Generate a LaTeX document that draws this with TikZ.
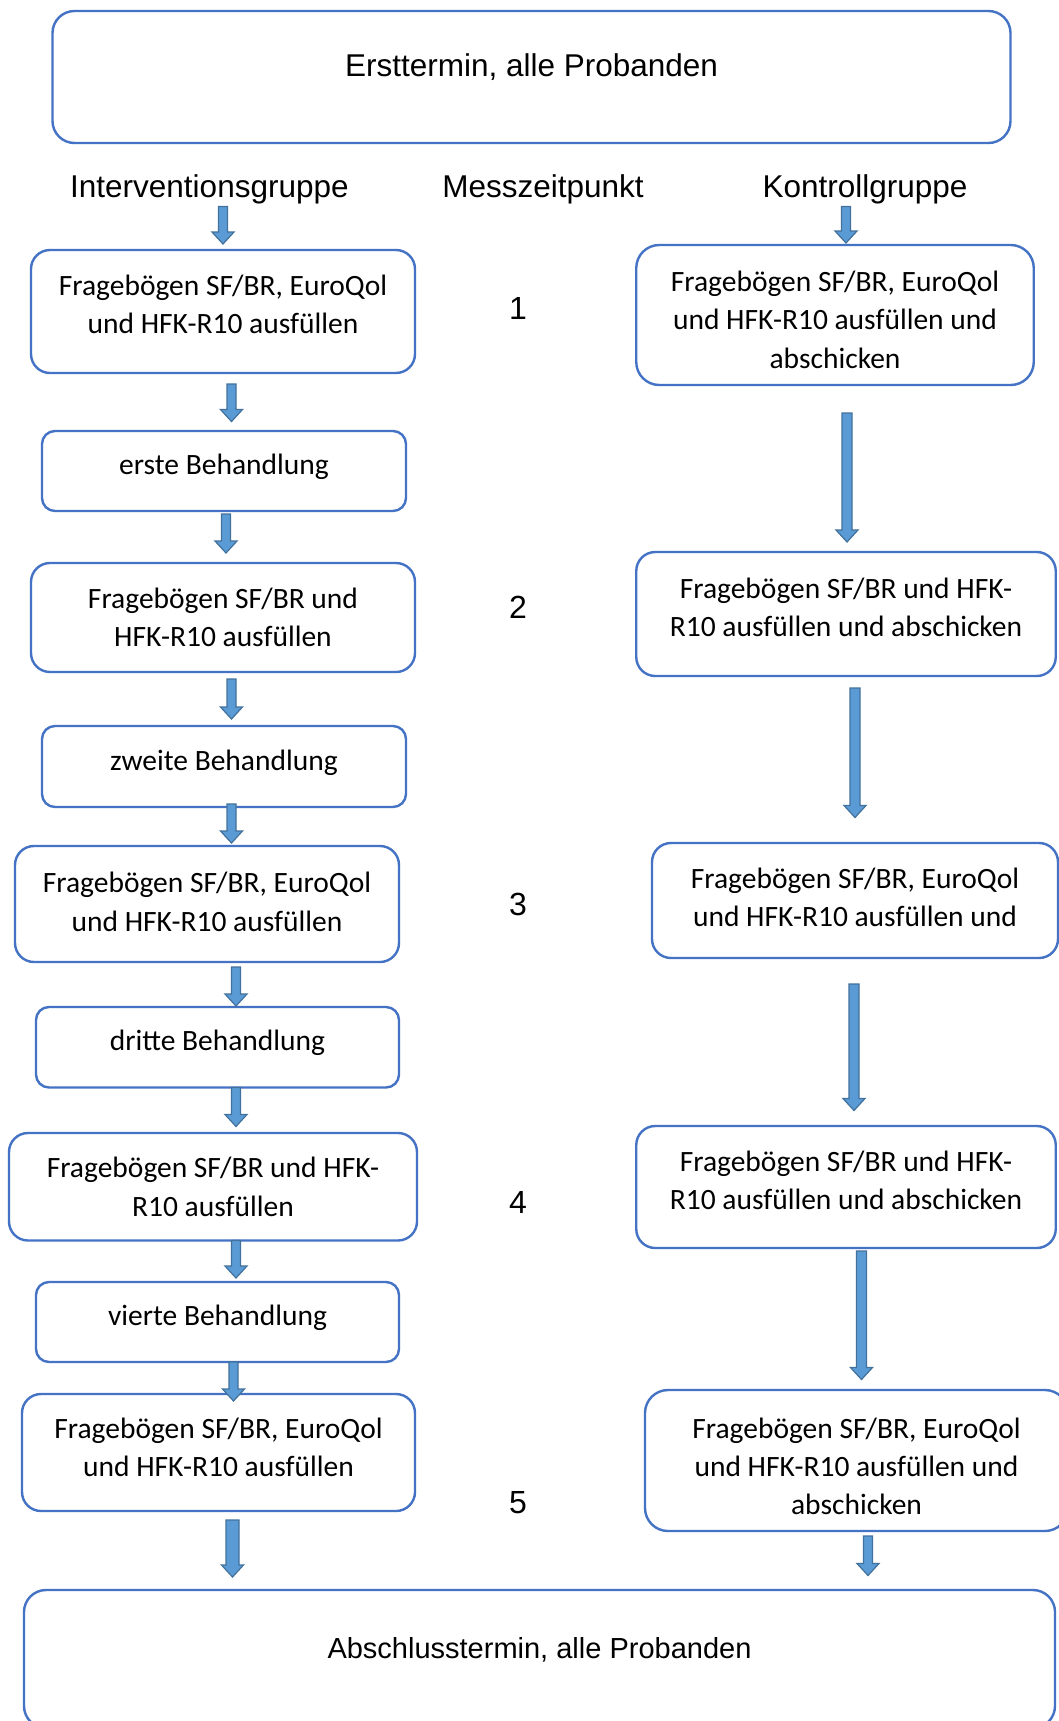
\documentclass[tikz,border=0pt]{standalone}
\usepackage{fontspec}
\setmainfont{Carlito}
\newfontfamily\headfont{Liberation Sans}
\usepackage{tikz}
\usetikzlibrary{positioning, calc}

\definecolor{boxblue}{HTML}{4472C4}
\definecolor{arrowfill}{HTML}{5B9BD5}
\definecolor{arrowline}{HTML}{41719C}

\begin{document}
\begin{tikzpicture}[x=1pt, y=-1pt,
    every node/.style={inner sep=0pt, outer sep=0pt},
    liftby/.style={execute at end node={\rule[-#1]{0pt}{#1}}},
    sinkby/.style={execute at begin node={\rule{0pt}{#1}}},
    qbox/.style={draw=boxblue, line width=2.4pt, rounded corners=19pt, align=center,
      font=\fontsize{29.5}{38.4}\selectfont},
    tbox/.style={qbox, rounded corners=13pt, liftby=13.3pt},
    bigbox/.style={qbox, rounded corners=22pt, font=\headfont\fontsize{31.5}{38}\selectfont,
      text height=22pt, text depth=24pt},
    head/.style={anchor=base, font=\headfont\fontsize{31.5}{38}\selectfont},
    num/.style={anchor=base, font=\headfont\fontsize{32}{38}\selectfont},
    blockarrow/.style={draw=arrowline, fill=arrowfill, line width=1.2pt, line join=miter,
      to path={let \p1=(\tikztostart), \p2=(\tikztotarget) in
        (\x1-#1,\y1) -- (\x1+#1,\y1) -- (\x1+#1,\y2+12pt) -- (\x1+11pt,\y2+12pt)
        -- (\x1,\y2) -- (\x1-11pt,\y2+12pt) -- (\x1-#1,\y2+12pt) -- cycle}},
    blockarrow/.default=4.5pt]

  \fill[white] (0,0) rectangle (1059,1721);
  \useasboundingbox (0,0) rectangle (1059,1721);

  \node[bigbox, minimum width=958pt, minimum height=132pt] (start) at (531.5,77) {Ersttermin, alle Probanden};

  \node[head] (IG) at (209.4,197.9) {Interventionsgruppe};
  \node[head] (MZ) at (543,197.9) {Messzeitpunkt};
  \node[head] (KG) at (865,197.9) {Kontrollgruppe};

  \node[qbox, minimum width=384pt, minimum height=123pt, liftby=14.2pt] (L1) at (223,311.5) {Fragebögen SF/BR, EuroQol\\und HFK-R10 ausfüllen};
  \node[tbox, minimum width=364pt, minimum height=80pt, below=58pt of L1, xshift=1pt] (L2) {erste Behandlung};
  \node[qbox, minimum width=384pt, minimum height=109pt, below=52pt of L2, xshift=-1pt] (L3) {Fragebögen SF/BR und\\HFK-R10 ausfüllen};
  \node[tbox, minimum width=364pt, minimum height=81pt, below=54pt of L3, xshift=1pt] (L4) {zweite Behandlung};
  \node[qbox, minimum width=384pt, minimum height=116pt, liftby=4.4pt, below=39pt of L4, xshift=-17pt] (L5) {Fragebögen SF/BR, EuroQol\\und HFK-R10 ausfüllen};
  \node[tbox, minimum width=363pt, minimum height=80.5pt, below=45pt of L5, xshift=10.5pt] (L6) {dritte Behandlung};
  \node[qbox, minimum width=408pt, minimum height=107.5pt, below=45.5pt of L6, xshift=-4.5pt] (L7) {Fragebögen SF/BR und HFK-\\R10 ausfüllen};
  \node[tbox, minimum width=363pt, minimum height=80pt, below=41.5pt of L7, xshift=4.5pt] (L8) {vierte Behandlung};
  \node[qbox, minimum width=393pt, minimum height=117pt, liftby=11pt, below=32pt of L8, xshift=1pt] (L9) {Fragebögen SF/BR, EuroQol\\und HFK-R10 ausfüllen};

  \node[qbox, minimum width=397.5pt, minimum height=140pt, rounded corners=23pt, sinkby=106.8pt] (R1) at (835,315) {Fragebögen SF/BR, EuroQol\\und HFK-R10 ausfüllen und\\abschicken};
  \node[qbox, minimum width=419.5pt, minimum height=124pt, liftby=13.2pt, below=167pt of R1, xshift=11pt] (R2) {Fragebögen SF/BR und HFK-\\R10 ausfüllen und abschicken};
  \node[qbox, minimum width=406pt, minimum height=115pt, liftby=6.6pt, below=167pt of R2, xshift=9pt] (R3) {Fragebögen SF/BR, EuroQol\\und HFK-R10 ausfüllen und};
  \node[qbox, minimum width=419.5pt, minimum height=122pt, liftby=13.2pt, below=168pt of R3, xshift=-9pt] (R4) {Fragebögen SF/BR und HFK-\\R10 ausfüllen und abschicken};
  \node[qbox, minimum width=423pt, minimum height=141pt, rounded corners=23pt, sinkby=109pt, below=142pt of R4, xshift=10.5pt] (R5) {Fragebögen SF/BR, EuroQol\\und HFK-R10 ausfüllen und\\abschicken};

  \node[num] (M1) at (518,319) {1};
  \node[num] (M2) at (518,618.5) {2};
  \node[num] (M3) at (518,915) {3};
  \node[num] (M4) at (518,1213) {4};
  \node[num] (M5) at (518,1513) {5};

  \node[bigbox, minimum width=1031pt, minimum height=138pt, font=\headfont\fontsize{29}{36}\selectfont] (end) at (539.5,1659) {Abschlusstermin, alle Probanden};

  \draw[blockarrow] ($(IG.south)+(13.6,2)$) to ($(L1.north)+(0,-6)$);
  \draw[blockarrow] ($(L1.south)+(8.5,11)$) to ($(L2.north)+(0,-9.5)$);
  \draw[blockarrow] ($(L2.south)+(2,3)$) to ($(L3.north)+(0,-10)$);
  \draw[blockarrow] ($(L3.south)+(8.5,7)$) to ($(L4.north)+(0,-7)$);
  \draw[blockarrow] ($(L4.south)+(7.5,-3)$) to ($(L5.north)+(0,-3)$);
  \draw[blockarrow] ($(L5.south)+(29,5)$) to ($(L6.north)+(0,-1)$);
  \draw[blockarrow] ($(L6.south)+(18.5,0)$) to ($(L7.north)+(0,-6.5)$);
  \draw[blockarrow] ($(L7.south)+(23,0)$) to ($(L8.north)+(0,-4)$);
  \draw[blockarrow] ($(L8.south)+(16,0)$) to ($(L9.north)+(0,7)$);
  \draw[blockarrow=6.5pt] ($(L9.south)+(14,9)$) to ($(end.north)+(0,-13)$);

  \draw[blockarrow] ($(KG.south)+(-19,2)$) to ($(R1.north)+(0,-2)$);
  \draw[blockarrow=5pt] ($(R1.south)+(12,28)$) to ($(R2.north)+(0,-10)$);
  \draw[blockarrow=5pt] ($(R2.south)+(9,12)$) to ($(R3.north)+(0,-25.5)$);
  \draw[blockarrow=5pt] ($(R3.south)+(-1,26)$) to ($(R4.north)+(0,-15.5)$);
  \draw[blockarrow=5pt] ($(R4.south)+(15.5,3)$) to ($(R5.north)+(0,-10.5)$);
  \draw[blockarrow] ($(R5.south)+(11.5,5)$) to ($(end.north)+(0,-14.5)$);
\end{tikzpicture}
\end{document}
